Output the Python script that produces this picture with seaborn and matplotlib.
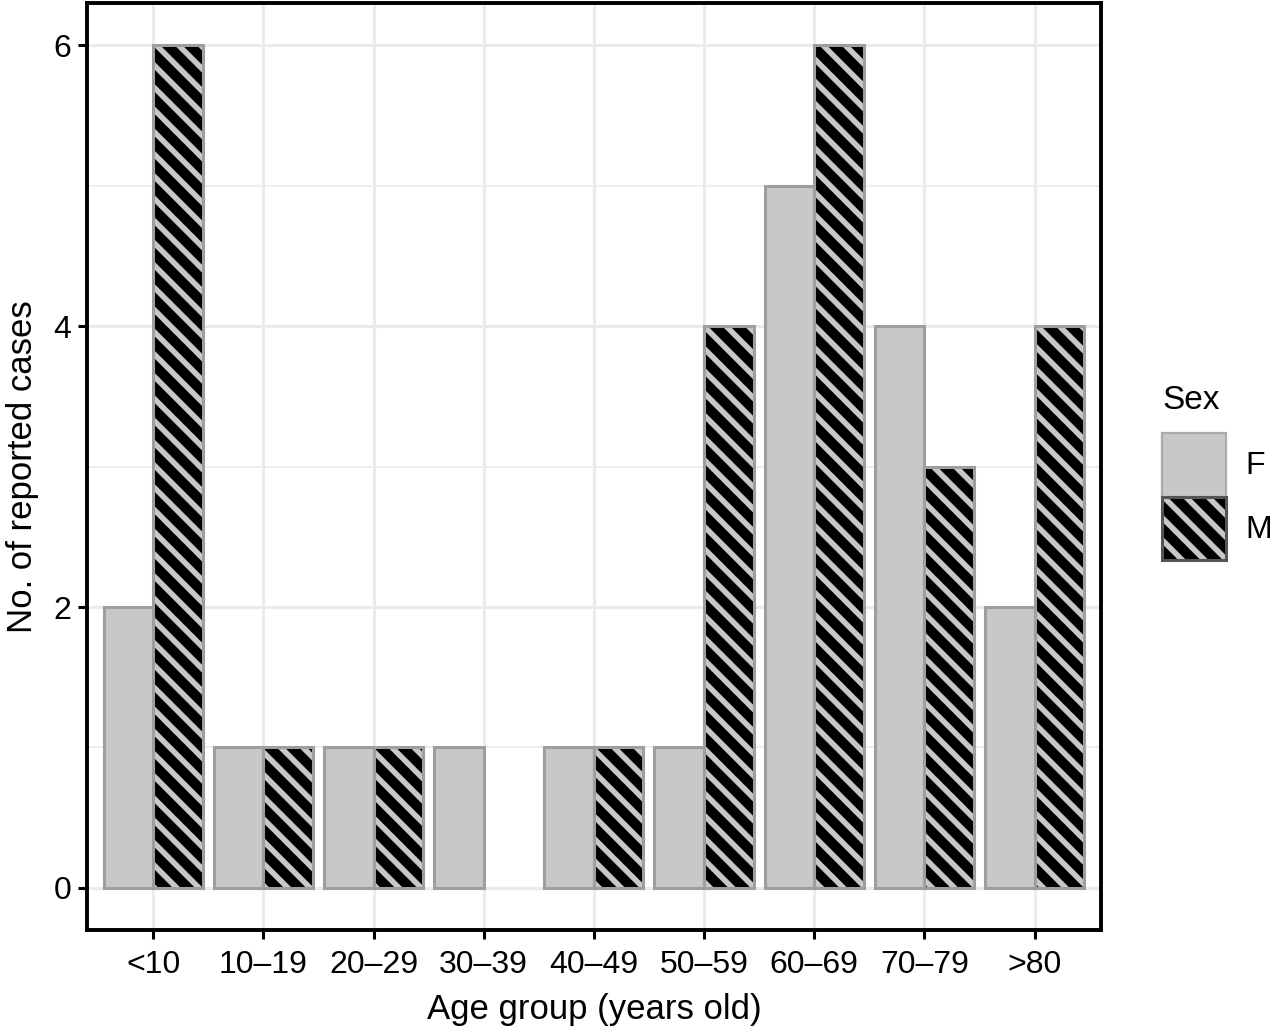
import matplotlib
matplotlib.use("Agg")
import matplotlib.pyplot as plt
import seaborn as sns
import pandas as pd
from matplotlib.patches import Patch, Rectangle
from matplotlib.legend_handler import HandlerTuple
from matplotlib.ticker import MultipleLocator


# ==============================
# DATA
# ==============================

age_groups = ["<10", "10–19", "20–29", "30–39", "40–49",
              "50–59", "60–69", "70–79", ">80"]
female_cases = [2, 1, 1, 1, 1, 1, 5, 4, 2]
male_cases = [6, 1, 1, 0, 1, 4, 6, 3, 4]
sexes = ["F", "M"]

df = pd.DataFrame({
    "age": age_groups * 2,
    "sex": ["F"] * len(age_groups) + ["M"] * len(age_groups),
    "cases": female_cases + male_cases,
})

fill_grey = "#C8C8C8"
edge_grey = "#9E9E9E"
hatch_style = "\\\\\\"


# ==============================
# STYLE
# ==============================

sns.set_style("white")
plt.rcParams["font.family"] = ["Liberation Sans", "DejaVu Sans"]
plt.rcParams["hatch.linewidth"] = 2.0
plt.rcParams["text.color"] = "black"
plt.rcParams["axes.labelcolor"] = "black"


# ==============================
# BAR CHART
# ==============================

fig, ax = plt.subplots(figsize=(6.37, 5.14), dpi=200)
fig.subplots_adjust(left=0.0683, right=0.864, bottom=0.0953, top=0.997)

sns.barplot(
    data=df,
    x="age",
    y="cases",
    hue="sex",
    hue_order=sexes,
    order=age_groups,
    palette={"F": fill_grey, "M": "black"},
    width=0.9,
    errorbar=None,
    legend=False,
    ax=ax
)

# female bars: plain grey with grey outline
for bar in ax.containers[0]:
    bar.set_edgecolor(edge_grey)
    bar.set_linewidth(1.1)
    if bar.get_height() == 0:
        bar.set_visible(False)

# male bars: black with grey diagonal stripes
for bar in ax.containers[1]:
    if bar.get_height() == 0:
        bar.set_visible(False)
        continue
    bar.set_facecolor("black")
    bar.set_edgecolor(fill_grey)
    bar.set_hatch(hatch_style)
    bar.set_linewidth(0)
    ax.add_patch(Rectangle(
        bar.get_xy(), bar.get_width(), bar.get_height(),
        fill=False, edgecolor=edge_grey, linewidth=1.1, zorder=bar.get_zorder()
    ))


# ==============================
# AXES
# ==============================

ax.set_ylim(-0.3, 6.3)
ax.set_xlim(-0.6, 8.6)
ax.yaxis.set_major_locator(MultipleLocator(2))
ax.yaxis.set_minor_locator(MultipleLocator(1))

ax.set_axisbelow(True)
ax.grid(True, which="major", color="#EBEBEB", linewidth=1.1)
ax.grid(True, which="minor", axis="y", color="#EBEBEB", linewidth=0.6)

for spine in ax.spines.values():
    spine.set_visible(True)
    spine.set_color("black")
    spine.set_linewidth(1.4)

ax.tick_params(axis="both", which="major", length=3.2, width=1.1,
               color="black", labelsize=11.5, labelcolor="black", pad=2.5,
               bottom=True, left=True)
ax.tick_params(axis="x", which="major", pad=4)
ax.tick_params(axis="y", which="minor", length=0)

ax.set_xlabel("Age group (years old)", fontsize=12.5, labelpad=4.5)
ax.set_ylabel("No. of reported cases", fontsize=12.5, labelpad=5)


# ==============================
# LEGEND
# ==============================

female_key = Patch(facecolor=fill_grey, edgecolor="#AAAAAA", linewidth=0.8)
male_key = (
    Patch(facecolor="black", edgecolor=fill_grey, hatch=hatch_style, linewidth=0),
    Patch(fill=False, edgecolor="#555555", linewidth=1.1),
)

legend = fig.legend(
    [female_key, male_key],
    sexes,
    handler_map={tuple: HandlerTuple(ndivide=1, pad=0)},
    title="Sex",
    title_fontsize=12,
    fontsize=11.5,
    loc="upper left",
    bbox_to_anchor=((1162 - 30) / 1274, 1 - 355 / 1028),
    frameon=False,
    alignment="left",
    handlelength=2.0,
    handleheight=2.7,
    labelspacing=0,
    handletextpad=0.6,
    borderpad=0.44,
)

# gap between legend title and keys
legend._legend_box.sep = 6

plt.savefig("out.png", dpi=200)
